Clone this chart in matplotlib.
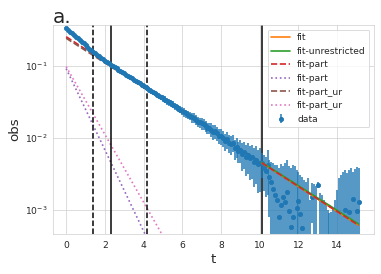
import matplotlib
matplotlib.use('Agg')
import matplotlib.pyplot as plt
import numpy as np
import seaborn as sns

# measured correlator, sampled every dt
dt = 0.1
obs = [0.334, 0.317, 0.300, 0.284, 0.270, 0.255, 0.242, 0.229, 0.217, 0.206,
       0.195, 0.185, 0.175, 0.166, 0.157, 0.150, 0.144, 0.137, 0.131, 0.125,
       0.119, 0.114, 0.109, 0.104, 0.1002, 0.0964, 0.0929, 0.0894, 0.0861, 0.0828,
       0.0788, 0.0758, 0.0728, 0.0700, 0.0672, 0.0646, 0.0621, 0.0596, 0.0573, 0.0550,
       0.0529, 0.0508, 0.0488, 0.0469, 0.0451, 0.0433, 0.0416, 0.0400, 0.0384, 0.0369,
       0.0355, 0.0341, 0.0328, 0.0315, 0.0302, 0.0290, 0.0279, 0.0268, 0.0258, 0.0248,
       0.0238, 0.0229, 0.0220, 0.0211, 0.0203, 0.0195, 0.0192, 0.0180, 0.0169, 0.0166,
       0.0160, 0.0157, 0.0147, 0.0138, 0.0139, 0.0131, 0.0122, 0.0124, 0.0116, 0.0108,
       0.0107, 0.0100, 0.0091, 0.0097, 0.0085, 0.0083, 0.0086, 0.0072, 0.0076, 0.0066,
       0.0069, 0.0060, 0.0063, 0.0055, 0.0059, 0.0052, 0.0054, 0.0047, 0.0050, 0.0043,
       0.0045, 4.50e-3, 3.83e-3, 3.48e-3, 4.22e-3, 2.87e-3, 2.45e-3, 1.96e-3, 1.62e-3, 1.38e-3,
       8.0e-4, 1.17e-3, 1.52e-3, 1.29e-3, 1.78e-3, 9.7e-4, 5.8e-4, 8.0e-4, 3.0e-4, 1.07e-3,
       1.33e-3, 8.8e-4, 5.6e-4, 2.5e-4, 3.5e-4, 2.0e-4, 3.0e-4, 1.52e-3, 2.0e-4, 3.0e-4,
       2.22e-3, 2.0e-4, 3.0e-4, 1.5e-4, 2.5e-4, 1.0e-4, 2.0e-4, 3.0e-4, 1.5e-4, 2.0e-4,
       2.5e-4, 3.0e-4, 2.0e-4, 3.5e-4, 1.0e-3, 3.0e-4, 9.4e-4, 2.5e-4, 1.42e-3, 3.0e-4,
       9.7e-4, 1.29e-3]
err = [0.0100, 0.0095, 0.0090, 0.0085, 0.0081, 0.0077, 0.0073, 0.0069, 0.0065, 0.0062,
       0.0059, 0.0056, 0.0053, 0.0050, 0.0047, 0.0045, 0.0043, 0.0041, 0.0039, 0.0038,
       0.0048, 0.0046, 0.0044, 0.0042, 0.0040, 0.0039, 0.0037, 0.0036, 0.0034, 0.0033,
       0.0048, 0.0046, 0.0044, 0.0043, 0.0041, 0.0040, 0.0038, 0.0037, 0.0035, 0.0034,
       0.0044, 0.0042, 0.0040, 0.0039, 0.0038, 0.0036, 0.0035, 0.0034, 0.0033, 0.0032,
       0.0038, 0.0037, 0.0036, 0.0035, 0.0033, 0.0032, 0.0031, 0.0030, 0.0028, 0.0027,
       0.0031, 0.0030, 0.0028, 0.0027, 0.0026, 0.0031, 0.0030, 0.0029, 0.0027, 0.0026,
       0.0030, 0.0029, 0.0027, 0.0026, 0.0025, 0.0029, 0.0028, 0.0027, 0.0026, 0.0025,
       0.0026, 0.0025, 0.0024, 0.0026, 0.0024, 0.0024, 0.0023, 0.0022, 0.0023, 0.0021,
       0.0024, 0.0025, 0.0026, 0.0025, 0.0027, 0.0026, 0.0027, 0.0026, 0.0027, 0.0026,
       0.0027, 1.69e-3, 1.98e-3, 1.97e-3, 2.59e-3, 2.08e-3, 2.19e-3, 2.54e-3, 2.60e-3, 2.84e-3,
       3.03e-3, 3.18e-3, 2.56e-3, 3.21e-3, 3.17e-3, 3.11e-3, 3.25e-3, 3.42e-3, 3.78e-3, 2.52e-3,
       2.04e-3, 2.18e-3, 2.31e-3, 2.36e-3, 2.10e-3, 2.58e-3, 1.08e-3, 0.85e-3, 2.10e-3, 1.85e-3,
       2.0e-4, 1.52e-3, 1.32e-3, 1.23e-3, 0.92e-3, 0.90e-3, 0.71e-3, 0.64e-3, 0.92e-3, 1.18e-3,
       1.65e-3, 2.48e-3, 2.86e-3, 3.02e-3, 2.59e-3, 2.97e-3, 2.65e-3, 3.58e-3, 1.95e-3, 3.41e-3,
       2.99e-3, 2.54e-3]
t = dt * np.arange(len(obs))

# fit curves (straight on log axis -> end points are enough)
fit_t, fit_y = [10.1, 15.1], [4.53e-3, 6.15e-4]
fitur_t, fitur_y = [10.1, 15.1], [4.60e-3, 6.40e-4]
slow_t, slow_y = [0.0, 15.1], [0.255, 6.15e-4]
fast_t, fast_y = [0.0, 5.0], [0.092, 1.39e-4]
slowur_t, slowur_y = [0.0, 15.1], [0.243, 6.3e-4]
fastur_t, fastur_y = [0.0, 6.0], [0.098, 1.47e-4]

# fit windows
dashed_lines = [1.39, 4.2]
solid_lines = [2.32, 10.1]

sns.set_style('whitegrid')
plt.rcParams['font.family'] = ['DejaVu Sans']

fig = plt.figure(figsize=(381 / 60, 274 / 60), dpi=60)
ax = fig.add_axes([53 / 381, 40 / 274, 321 / 381, 209 / 274])
ax.set_yscale('log', nonpositive='clip')

ax.errorbar(t, obs, yerr=err, fmt='o', ms=5, elinewidth=1.8, color='C0',
            label='data', zorder=3)
ax.plot(fit_t, fit_y, color='C1', lw=2, label='fit', zorder=4)
ax.plot(fitur_t, fitur_y, color='C2', lw=2, label='fit-unrestricted', zorder=4)
ax.plot(slow_t, slow_y, '--', color='C3', lw=2, label='fit-part')
ax.plot(fast_t, fast_y, ':', color='C4', lw=2, label='fit-part')
ax.plot(slowur_t, slowur_y, '--', color='C5', lw=2, label='fit-part_ur')
ax.plot(fastur_t, fastur_y, ':', color='C6', lw=2, label='fit-part_ur')
# slow part again inside the fit window, drawn over the fit lines
ax.plot(fit_t, fit_y, '--', color='C3', lw=2, zorder=5)

for x in dashed_lines:
    ax.axvline(x, color='k', ls='--', lw=1.8)
for x in solid_lines:
    ax.axvline(x, color='k', lw=1.8)

ax.set_xlim(-0.68, 15.9)
ax.set_ylim(4.65e-4, 0.371)
ax.set_xticks([0, 2, 4, 6, 8, 10, 12, 14])
ax.tick_params(axis='x', length=0, pad=8, labelsize=11)
ax.tick_params(axis='y', length=0, pad=7, labelsize=11)
ax.tick_params(axis='y', which='minor', length=0)

ax.set_xlabel('t', fontsize=16)
ax.set_ylabel('obs', fontsize=16)
ax.set_title('a.', loc='left', fontsize=24, pad=2)
ax.legend(loc='upper right', fontsize=11)

fig.savefig('out.png', dpi=60)
